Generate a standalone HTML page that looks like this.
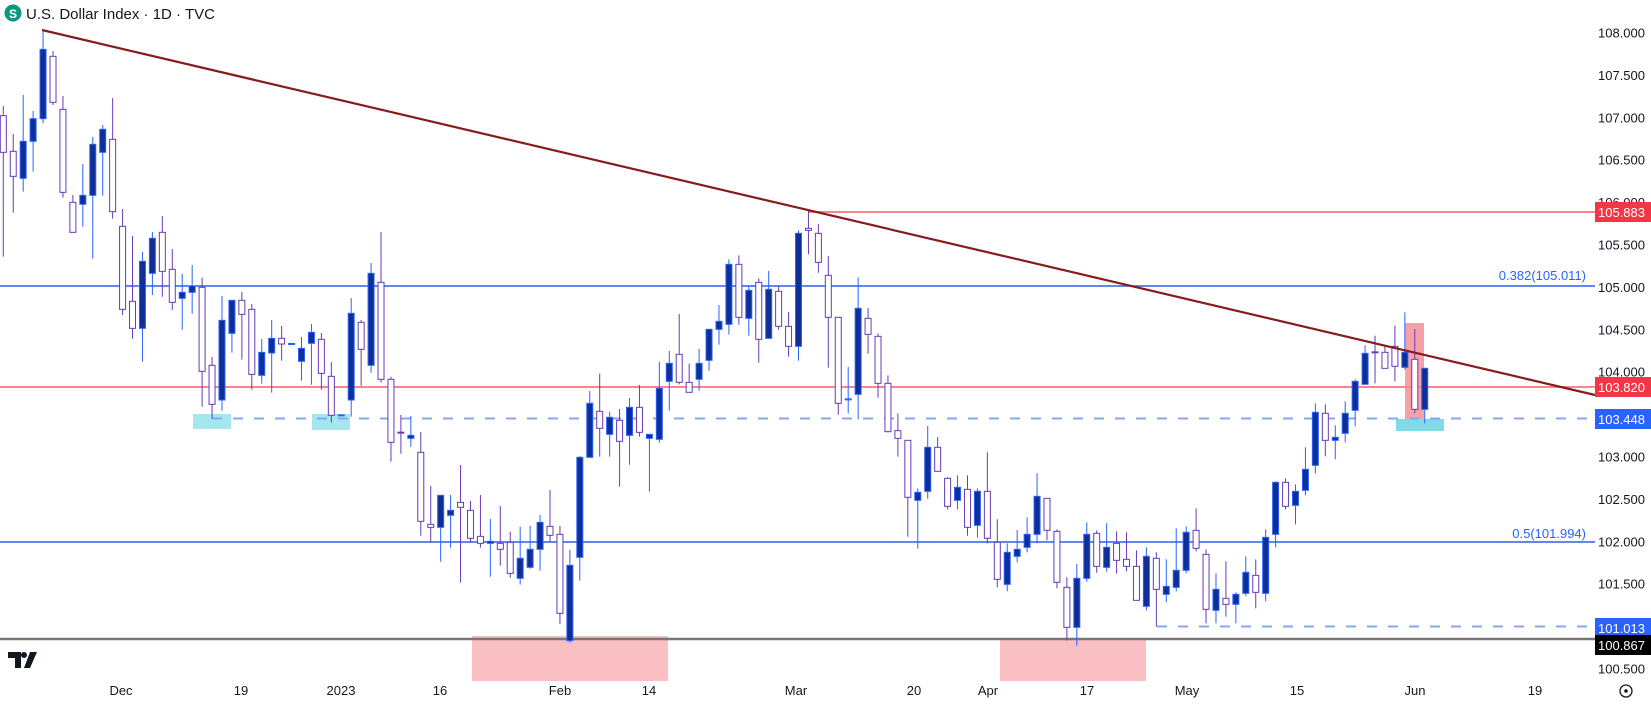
<!DOCTYPE html>
<html><head><meta charset="utf-8"><style>
html,body{margin:0;padding:0;background:#fff;overflow:hidden}
svg{display:block;font-family:"Liberation Sans",sans-serif}
</style></head><body>
<svg id="c" width="1651" height="704" xmlns="http://www.w3.org/2000/svg">
<rect width="1651" height="704" fill="#fff"/>
<g id="bg"></g>
<g id="cd"></g>
<g id="fg"></g>
</svg>
<script>
var NS="http://www.w3.org/2000/svg";
function el(p,t,a,txt){var e=document.createElementNS(NS,t);for(var k in a)e.setAttribute(k,a[k]);if(txt!=null)e.textContent=txt;p.appendChild(e);return e;}
var bg=document.getElementById('bg'),cd=document.getElementById('cd'),fg=document.getElementById('fg');
function Y(v){return 387+(103.82-v)*84.8;}
// highlight boxes
el(bg,'rect',{x:472,y:636,width:196,height:45,fill:'#f9bfc3'});
el(bg,'rect',{x:1000,y:640,width:146,height:41,fill:'#f9bfc3'});
el(bg,'rect',{x:1405,y:323,width:19,height:96,fill:'#f6a1a7'});
el(bg,'rect',{x:193,y:414,width:38,height:15,fill:'#a6e7ef'});
el(bg,'rect',{x:312,y:414,width:38,height:16,fill:'#a6e7ef'});
el(bg,'rect',{x:1396,y:419,width:48,height:12,fill:'#80dbe7'});
// lines
el(bg,'line',{x1:0,y1:286,x2:1595,y2:286,stroke:'#2f5fe8','stroke-width':1.5});
el(bg,'line',{x1:0,y1:542,x2:1595,y2:542,stroke:'#2f5fe8','stroke-width':1.5});
el(bg,'line',{x1:0,y1:387,x2:1595,y2:387,stroke:'#f7868c','stroke-width':2});
el(bg,'line',{x1:808,y1:212,x2:1595,y2:212,stroke:'#f7868c','stroke-width':2});
el(bg,'line',{x1:212,y1:418.5,x2:1595,y2:418.5,stroke:'#86a6fa','stroke-width':2,'stroke-dasharray':'10,11'});
el(bg,'line',{x1:1157,y1:626.5,x2:1595,y2:626.5,stroke:'#86a6fa','stroke-width':2,'stroke-dasharray':'10,11'});
el(bg,'line',{x1:0,y1:639,x2:1595,y2:639,stroke:'#777','stroke-width':2.5});
el(bg,'text',{x:1586,y:280,'text-anchor':'end','font-size':13,fill:'#2962ff'},'0.382(105.011)');
el(bg,'text',{x:1586,y:538,'text-anchor':'end','font-size':13,fill:'#2962ff'},'0.5(101.994)');

var segs=[[20,[
['d',287,397,258,710],['d',394,469,342,578],['u',364,475,225,515],['u',296,364,273,455],['u',88,296,30,310],
['d',109,247,93,255],['d',268,517,228,533],['d',547,637,525,637],['u',526,553,432,620],['u',373,526,351,716],
['u',328,397,315,527],['d',358,575,234,596],['d',619,868,567,885],['d',844,925,648,956],['u',724,925,696,1025],
['u',655,760,636,825],['d',637,754,588,830],['d',748,847,687,870],['u',817,835,762,929],['u',798,817,735,881],
['d',802,1054,773,1160],['d',1036,1153,1011,1196],['u',901,1140,828,1172],['u',841,940,841,998],['d',841,883,816,1019],
['d',868,1063,852,1109],['u',997,1066,957,1091],['u',955,999,900,1118],['d',955,972,918,1022],['du',972,972,972,972],
['u',985,1024,951,1082],['u',937,970,912,1094],['d',958,1060,939,1109],['d',1069,1186,1026,1208],['du',1186,1186,1186,1186],
['u',880,1140,834,1190],['d',907,988,900,1097],['u',760,1036,729,1058],['d',787,1078,636,1088],['d',1078,1267,1070,1325],
['dd',1238,1238,1185,1301]]],
[190,[
['u',736,745,678,770],['d',787,994,726,1037],['d',1003,1012,888,1058],['u',916,1012,916,1115],['u',961,976,915,1073],
['d',937,952,825,1178],['d',961,1045,933,1058],['d',1039,1060,915,1073],['u',1054,1060,987,1160],['d',1060,1078,948,1127],
['d',1057,1150,1025,1163],['u',1105,1165,1010,1184],['u',1078,1132,1007,1136],['u',997,1078,975,1142],['d',1009,1036,900,1055],
['d',1033,1270,1008,1302],['u',1126,1352,1080,1358],['u',802,1102,798,1172],['u',640,802,603,802],['d',664,715,551,800],
['u',682,733,665,800],['d',691,754,657,890],['u',652,736,624,824],['d',652,727,585,740],['u',733,745,733,905],
['u',595,748,515,758],['u',520,574,483,662],['d',493,577,372,583],['d',577,607,521,607],['u',520,568,476,602],
['u',418,511,418,542],['u',394,418,345,464],['u',223,403,208,434],['d',223,382,196,404],['u',301,385,287,437],
['d',277,448,265,518],['u',298,445,243,445],['d',304,409,288,419],['d',409,469,366,500],['u',130,469,121,512],
['d',115,121,63,193],['d',130,217,102,248],['d',256,382,198,533],['d',382,640,382,674],['du',628,628,531,670],
['u',355,613,262,688],['d',385,433,354,491],['d',439,580,430,623]]],
[280,[
['d',310,455,286,457],['d',452,475,400,530],['d',481,652,481,770],['u',637,661,625,806],['u',502,634,438,656],
['d',502,574,471,574],['d',595,679,592,688],['u',622,661,586,688],['d',628,742,586,767],['u',634,736,625,773],
['d',634,775,517,790],['d',787,898,718,922],['u',817,913,790,934],['u',808,829,750,847],['u',763,802,712,817],
['u',649,763,580,790],['d',655,751,655,781],['d',754,907,748,925],['d',922,1042,892,1082],['u',895,1042,852,1097],
['u',763,895,727,905],['d',760,859,751,878],['u',802,862,730,875],['d',790,841,754,881],['d',838,859,757,874],
['d',859,961,811,961],['u',829,979,802,991],['d',835,928,817,1040],['u',919,943,838,967],['u',871,922,745,934],
['u',757,871,739,880],['d',751,805,685,814],['d',823,988,808,1030],['u',928,991,880,1030],['d',955,973,844,1010],
['u',943,973,937,1030],['u',877,940,829,949],['d',886,937,838,985],['u',772,940,748,964],['u',607,763,604,802],
['d',607,679,595,688],['u',634,676,613,733],['u',568,631,502,646],['u',397,556,370,580],['d',400,481,373,529],
['u',472,481,436,538],['u',400,460,364,487],['u',304,391,298,439],['u',220,313,196,313]]],
[180,[
['dd',517,517,467,610],['d',517,565,497,565],['d',499,559,437,604],['u',517,562,397,568],['d',538,688,447,700],
['u',565,688,563,730]]]];
var i=0;
segs.forEach(function(s){var off=s[0];s[1].forEach(function(c){
 var x=3.3+9.94*i; i++;
 var t=c[0],bt=off+c[1]/3,bb=off+c[2]/3,wt=off+c[3]/3,wb=off+c[4]/3;
 var col=(t=='u'||t=='du')?'#2962ff':'#673ab7';
 if(wb-wt>0.5) el(cd,'line',{x1:x,y1:wt,x2:x,y2:wb,stroke:col,'stroke-width':1});
 if(t=='du'||t=='dd'){el(cd,'rect',{x:x-3.5,y:bt-1,width:7,height:2,fill:col});return;}
 var h=Math.max(bb-bt,1.5);
 el(cd,'rect',{x:x-3,y:bt,width:6,height:h,fill:t=='u'?'#0f2e96':'#fff',stroke:col,'stroke-width':1});
});});
// trendline
el(fg,'line',{x1:42,y1:30,x2:1595,y2:395,stroke:'#861c1c','stroke-width':2.2});
// y axis labels
for(var v=108;v>=100.5;v-=0.5){el(fg,'text',{x:1645,y:Y(v)+5,'text-anchor':'end','font-size':13,fill:'#131722'},v.toFixed(3));}
function box(y,c,t){el(fg,'rect',{x:1595,y:y-10,width:56,height:20,fill:c});el(fg,'text',{x:1645,y:y+5,'text-anchor':'end','font-size':13,fill:'#fff'},t);}
box(212,'#f23645','105.883');box(387,'#f23645','103.820');box(419,'#2962ff','103.448');
box(628,'#2962ff','101.013');box(645,'#000','100.867');
// x axis labels
[['Dec',121],['19',241],['2023',341],['16',440],['Feb',560],['14',649],['Mar',796],['20',914],['Apr',988],['17',1087],['May',1187],['15',1297],['Jun',1415],['19',1535]].forEach(function(a){
 el(fg,'text',{x:a[1],y:695,'text-anchor':'middle','font-size':13,fill:'#131722'},a[0]);});
// gear
el(fg,'circle',{cx:1626,cy:691,r:6,fill:'none',stroke:'#131722','stroke-width':1.3});
el(fg,'circle',{cx:1626,cy:691,r:1.8,fill:'#131722'});
// title
el(fg,'circle',{cx:13,cy:13,r:8.5,fill:'#089981'});
el(fg,'text',{x:13,y:18,'text-anchor':'middle','font-size':12,'font-weight':'bold',fill:'#fff'},'S');
el(fg,'text',{x:26,y:19,'font-size':15,fill:'#131722'},'U.S. Dollar Index · 1D · TVC');
// TV logo
el(fg,'path',{d:'M8 652h13v16h-6v-10h-7z',fill:'#131722'});
el(fg,'circle',{cx:24,cy:655,r:3,fill:'#131722'});
el(fg,'path',{d:'M30 652h7l-7 16h-6z',fill:'#131722'});
</script>
</body></html>
